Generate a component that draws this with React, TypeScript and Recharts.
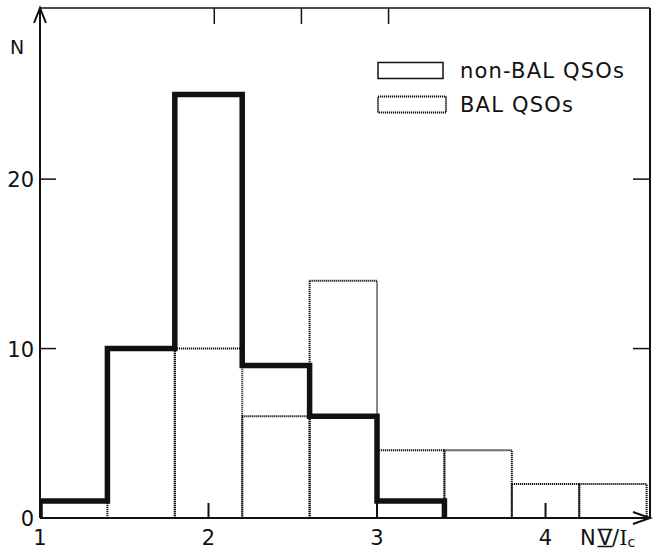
import React from "react";
import { ComposedChart, Line, XAxis, YAxis, ReferenceArea, Legend } from "recharts";

// Bin edges of the N V / I_c histogram
const binEdges = [1.0, 1.4, 1.8, 2.2, 2.6, 3.0, 3.4, 3.8, 4.2, 4.6];
// counts per bin
const nonBalCounts = [1, 10, 25, 9, 6, 1, 0, 0, 0];
const balCounts = [0, 10, 10, 6, 14, 4, 4, 2, 2];
const xTicks = [1, 2, 3, 4];
const xInnerTicks = [2, 3, 4];
const yTicks = [0, 10, 20];
const yInnerTicks = [10, 20];
const seriesNames = ["non-BAL QSOs", "BAL QSOs"];

const X_DOMAIN = [1, 4.62];
const Y_DOMAIN = [0, 30.1];

const INK = "#111";
const FONT = "DejaVu Sans";

// build a step outline (stepAfter) for the non-BAL histogram
const lastNonZero = nonBalCounts.reduce((acc, v, i) => (v > 0 ? i : acc), 0);
const stepData = [
  { x: binEdges[0], n: 0 },
  ...nonBalCounts.slice(0, lastNonZero + 1).map((v, i) => ({ x: binEdges[i], n: v })),
  { x: binEdges[lastNonZero + 1], n: 0 },
];

const BottomTick = (p: any) => {
  const { x, y, payload } = p;
  return (
    <g>
      {payload.value !== 1 && (
        <line x1={x} x2={x} y1={y} y2={y - 15} stroke={INK} strokeWidth={2} />
      )}
      <text x={x} y={y + 27} textAnchor="middle" fontFamily={FONT} fontSize={21} fill={INK}>
        {payload.value}
      </text>
    </g>
  );
};

const TopTick = (p: any) => {
  const { x, y } = p;
  return <line x1={x} x2={x} y1={y} y2={y + 16} stroke={INK} strokeWidth={1.5} />;
};

const LeftTick = (p: any) => {
  const { x, y, payload } = p;
  return (
    <g>
      {payload.value !== 0 && (
        <line x1={x} x2={x + 16} y1={y} y2={y} stroke={INK} strokeWidth={1.5} />
      )}
      <text x={x - 6} y={y + 8} textAnchor="end" fontFamily={FONT} fontSize={21} fill={INK}>
        {payload.value}
      </text>
    </g>
  );
};

const RightTick = (p: any) => {
  const { x, y } = p;
  return <line x1={x} x2={x - 17} y1={y} y2={y} stroke={INK} strokeWidth={1.5} />;
};

const YLabel = (props: any) => {
  const vb = props.viewBox || {};
  const ax = (vb.x ?? 0) + (vb.width ?? 0);
  const ay = vb.y ?? 0;
  return (
    <g>
      <path
        d={`M${ax - 6},${ay + 15} L${ax},${ay} L${ax + 6},${ay + 15}`}
        fill="none"
        stroke={INK}
        strokeWidth={2}
      />
      <text x={ax - 30} y={ay + 46} fontFamily={FONT} fontSize={19} fill={INK}>
        N
      </text>
    </g>
  );
};

const XLabel = (props: any) => {
  const vb = props.viewBox || {};
  const ax = (vb.x ?? 0) + (vb.width ?? 0);
  const ay = vb.y ?? 0;
  const tx = ax - 70;
  const ty = ay + 27;
  return (
    <g>
      <path
        d={`M${ax - 17},${ay - 6} L${ax},${ay} L${ax - 17},${ay + 6}`}
        fill="none"
        stroke={INK}
        strokeWidth={2}
      />
      <text x={tx} y={ty} fontFamily={FONT} fontSize={21} fill={INK}>
        <tspan>N</tspan>
        <tspan dx={2}>V</tspan>
        <tspan>/</tspan>
        <tspan fontFamily="DejaVu Serif">I</tspan>
        <tspan dy={2} fontSize={14}>c</tspan>
      </text>
      <line x1={tx + 17.5} x2={tx + 32.5} y1={ty - 15.5} y2={ty - 15.5} stroke={INK} strokeWidth={1.5} />
      <line x1={tx + 17.5} x2={tx + 32.5} y1={ty + 1.5} y2={ty + 1.5} stroke={INK} strokeWidth={1.5} />
    </g>
  );
};

const LegendContent = () => (
  <div style={{ fontFamily: FONT, fontSize: 21, color: INK, letterSpacing: 1.2 }}>
    {seriesNames.map((name, i) => (
      <div key={name} style={{ display: "flex", alignItems: "center", height: 34 }}>
        <svg width={72} height={20} style={{ display: "block" }}>
          <rect
            x={1}
            y={1.5}
            width={i === 0 ? 65 : 68}
            height={16}
            fill="none"
            stroke={INK}
            strokeWidth={i === 0 ? 1.5 : 2}
            strokeDasharray={i === 0 ? undefined : "1.2 0.8"}
          />
        </svg>
        <span style={{ marginLeft: 11, lineHeight: "20px" }}>{name}</span>
      </div>
    ))}
  </div>
);

export default function App() {
  return (
    <div style={{ position: "absolute", left: 0, top: 0, background: "#fff" }}>
      <ComposedChart
        width={654}
        height={550}
        data={stepData}
        margin={{ top: 0, right: 0, bottom: 0, left: 0 }}
      >
        <XAxis
          xAxisId="b"
          dataKey="x"
          type="number"
          domain={X_DOMAIN}
          allowDataOverflow
          ticks={xTicks}
          interval={0}
          height={32}
          tickSize={0}
          tickMargin={0}
          tickLine={false}
          axisLine={{ stroke: INK, strokeWidth: 2 }}
          tick={<BottomTick />}
          label={(p: any) => <XLabel {...p} />}
        />
        <XAxis
          xAxisId="t"
          orientation="top"
          type="number"
          domain={X_DOMAIN}
          allowDataOverflow
          ticks={xInnerTicks}
          interval={0}
          height={8}
          tickSize={0}
          tickMargin={0}
          tickLine={false}
          axisLine={{ stroke: INK, strokeWidth: 1.5 }}
          tick={<TopTick />}
        />
        <YAxis
          yAxisId="l"
          type="number"
          domain={Y_DOMAIN}
          allowDataOverflow
          ticks={yTicks}
          interval={0}
          width={40}
          tickSize={0}
          tickMargin={0}
          tickLine={false}
          axisLine={{ stroke: INK, strokeWidth: 2 }}
          tick={<LeftTick />}
          label={(p: any) => <YLabel {...p} />}
        />
        <YAxis
          yAxisId="r"
          orientation="right"
          type="number"
          domain={Y_DOMAIN}
          allowDataOverflow
          ticks={yInnerTicks}
          interval={0}
          width={4}
          tickSize={0}
          tickMargin={0}
          tickLine={false}
          axisLine={{ stroke: INK, strokeWidth: 2 }}
          tick={<RightTick />}
        />
        {balCounts.map((v, i) =>
          v > 0 ? (
            <ReferenceArea
              key={"bal" + i}
              xAxisId="b"
              yAxisId="l"
              x1={binEdges[i]}
              x2={binEdges[i + 1]}
              y1={0}
              y2={v}
              fill="none"
              fillOpacity={0}
              stroke={INK}
              strokeWidth={2}
              strokeDasharray="1.2 0.8"
              ifOverflow="visible"
            />
          ) : null
        )}
        <Line
          xAxisId="b"
          yAxisId="l"
          type="stepAfter"
          dataKey="n"
          name={seriesNames[0]}
          stroke={INK}
          strokeWidth={5.5}
          dot={false}
          activeDot={false}
          isAnimationActive={false}
          strokeLinejoin="miter"
        />
        <Legend
          layout="vertical"
          align="center"
          verticalAlign="middle"
          content={() => <LegendContent />}
          wrapperStyle={{ position: "absolute", left: 377, top: 54, width: 275 }}
        />
      </ComposedChart>
    </div>
  );
}
